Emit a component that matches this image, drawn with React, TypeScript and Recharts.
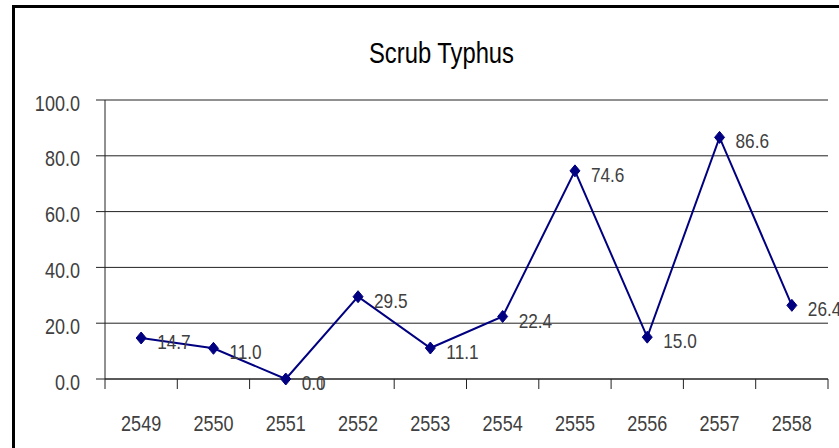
import React from "react";
import { LineChart, Line, XAxis, YAxis, CartesianGrid, LabelList } from "recharts";

const years = ["2549", "2550", "2551", "2552", "2553", "2554", "2555", "2556", "2557", "2558"];
const rates = [14.7, 11.0, 0.0, 29.5, 11.1, 22.4, 74.6, 15.0, 86.6, 26.4];
const yTicks = [0, 20, 40, 60, 80, 100];

const data = years.map((y, i) => ({ year: y, rate: rates[i] }));

const FONT = "'Liberation Sans', Arial, sans-serif";
const TEXT = "#404040";
const NAVY = "#000080";
const AXIS = "#222";
const SX = 0.82;
const X_TICK_MARGIN = 44;
const X_MARK_LEN = 10;

const Diamond = (props: any) => {
  const { cx, cy, index } = props;
  if (cx == null || cy == null) return null;
  return (
    <polygon
      key={`d-${index}`}
      points={`${cx},${cy - 6} ${cx + 5},${cy} ${cx},${cy + 6} ${cx - 5},${cy}`}
      fill={NAVY}
      stroke={NAVY}
    />
  );
};

const ValueLabel = (props: any) => {
  const { x, y, value } = props;
  return (
    <text
      transform={`translate(${x + 16},${y + 4}) scale(${SX},1)`}
      x={0}
      y={0}
      dominantBaseline="central"
      fontFamily={FONT}
      fontSize={21}
      fill={TEXT}
    >
      {Number(value).toFixed(1)}
    </text>
  );
};

const YTick = (props: any) => {
  const { x, y, payload } = props;
  return (
    <text
      transform={`translate(${x},${y + 3}) scale(${SX},1)`}
      x={0}
      y={0}
      textAnchor="end"
      dominantBaseline="central"
      fontFamily={FONT}
      fontSize={22}
      fill={TEXT}
    >
      {Number(payload.value).toFixed(1)}
    </text>
  );
};

const XTick = (props: any) => {
  const { x, y, payload, index, visibleTicksCount } = props;
  const half = payload && typeof payload.offset === "number" ? payload.offset : null;
  const axisY = y - X_TICK_MARGIN;
  return (
    <g>
      {half != null && (
        <line x1={x - half} x2={x - half} y1={axisY} y2={axisY + X_MARK_LEN} stroke={AXIS} />
      )}
      {half != null && index === visibleTicksCount - 1 && (
        <line x1={x + half} x2={x + half} y1={axisY} y2={axisY + X_MARK_LEN} stroke={AXIS} />
      )}
      <text
        transform={`translate(${x},${y}) scale(${SX},1)`}
        x={0}
        y={0}
        textAnchor="middle"
        dominantBaseline="central"
        fontFamily={FONT}
        fontSize={22}
        fill={TEXT}
      >
        {payload.value}
      </text>
    </g>
  );
};

export default function App() {
  return (
    <div style={{ position: "absolute", left: 0, top: 0, width: 839, height: 448, overflow: "hidden", background: "#fff" }}>
      <div
        style={{
          position: "absolute",
          left: 12,
          top: 5,
          width: 900,
          height: 500,
          borderLeft: "3px solid #000",
          borderTop: "3px solid #000",
          boxSizing: "border-box",
        }}
      />
      <div
        style={{
          position: "absolute",
          left: 0,
          top: 36,
          width: 883,
          textAlign: "center",
          fontFamily: FONT,
          fontSize: 29,
          color: "#000",
          lineHeight: "34px",
          transform: `scaleX(${SX})`,
          transformOrigin: "441.5px 0",
        }}
      >
        Scrub Typhus
      </div>
      <div style={{ position: "absolute", left: 0, top: 0 }}>
        <LineChart
          width={839}
          height={448}
          data={data}
          margin={{ top: 100, right: 11, bottom: 9, left: 0 }}
        >
          <CartesianGrid horizontal vertical={false} stroke={AXIS} strokeWidth={1} />
          <XAxis
            dataKey="year"
            scale="band"
            height={60}
            tickLine={false}
            tickSize={0}
            tickMargin={X_TICK_MARGIN}
            axisLine={{ stroke: AXIS }}
            tick={<XTick />}
            interval={0}
          />
          <YAxis
            width={105}
            domain={[0, 100]}
            ticks={yTicks}
            tickSize={9}
            tickMargin={16}
            axisLine={{ stroke: AXIS }}
            tickLine={{ stroke: AXIS }}
            tick={<YTick />}
          />
          <Line
            dataKey="rate"
            stroke={NAVY}
            strokeWidth={2}
            dot={Diamond}
            activeDot={false}
            isAnimationActive={false}
          >
            <LabelList dataKey="rate" content={ValueLabel} />
          </Line>
        </LineChart>
      </div>
    </div>
  );
}
